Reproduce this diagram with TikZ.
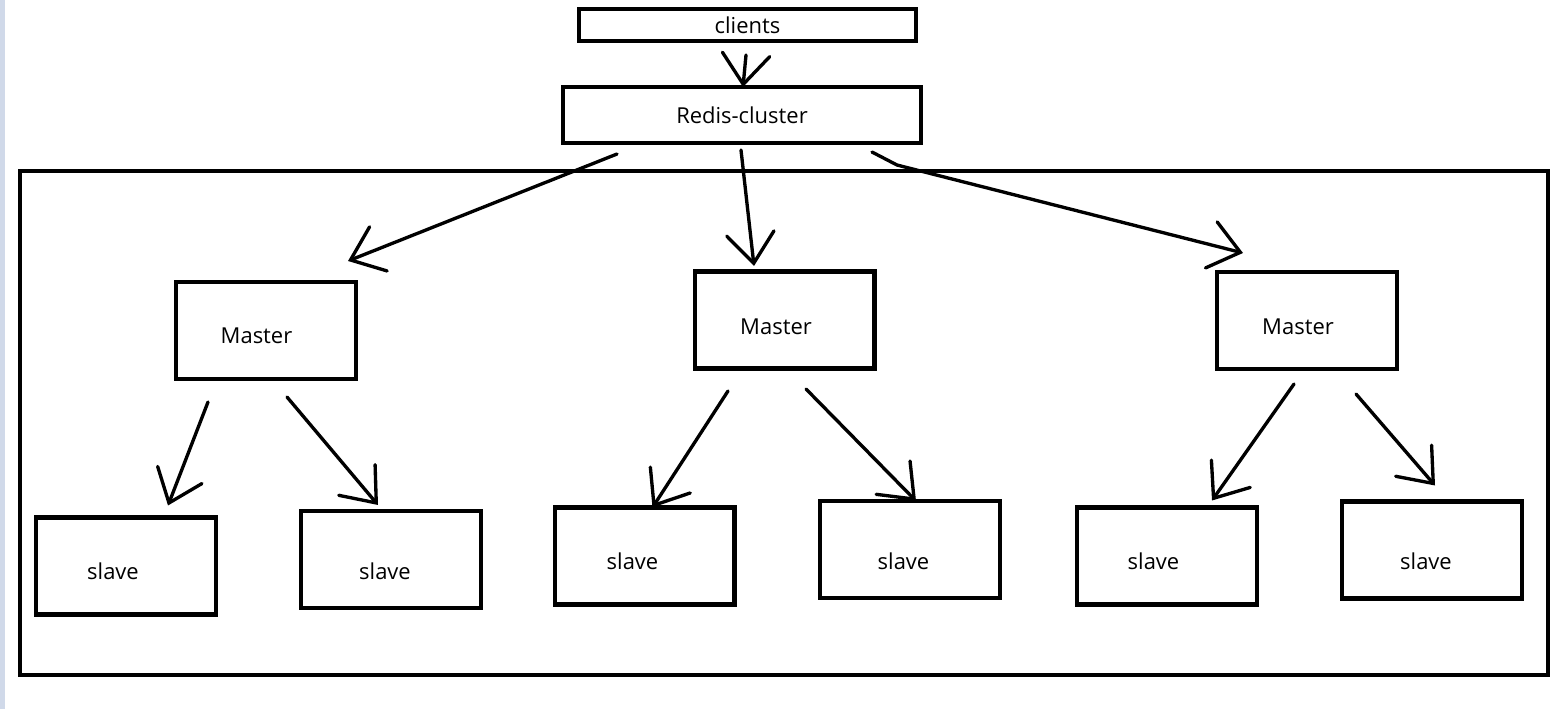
\documentclass[tikz,border=0pt]{standalone}
\usepackage{fontspec}
\setmainfont{Open Sans}
\usetikzlibrary{positioning, arrows.meta}
\definecolor{sidebar}{RGB}{208,217,233}

\begin{document}
\begin{tikzpicture}[
    x=0.02cm, y=-0.02cm,
    font=\fontsize{12.5}{15}\selectfont,
    box/.style={rectangle, draw, line width=2.3pt, inner sep=0pt, minimum width=3.6cm, minimum height=1.94cm},
    arr/.style={line width=1.9pt, line cap=round, -{Straight Barb[length=0.6cm, width=0.95cm, line cap=round]}},
]
\useasboundingbox (0,0) rectangle (1558,709);
\fill [sidebar] (0,0) rectangle (5,709);

% Nodes
\node [draw, line width=2.3pt, inner sep=0pt, minimum width=6.74cm, minimum height=0.64cm] (clients) at (747.5,25) {clients};
\node [draw, line width=2.3pt, inner sep=0pt, minimum width=7.16cm, minimum height=1.12cm] (redis) at (742,115) {Redis-cluster};
\node [draw, line width=2.3pt, inner sep=0pt, minimum width=30.55cm, minimum height=10.08cm] (cluster) at (784,423) {};

\node [box, label={[xshift=-0.19cm, yshift=-0.11cm]center:Master}] (master1) at (266,330.5) {};
\node [box, label={[xshift=-0.17cm, yshift=-0.13cm]center:Master}] (master2) at (784.5,320) {};
\node [box, label={[xshift=-0.18cm, yshift=-0.13cm]center:Master}] (master3) at (1307,320.5) {};

\node [box, label={[xshift=-0.26cm, yshift=-0.10cm]center:slave}] (slave1) at (126,566) {};
\node [box, label={[xshift=-0.12cm, yshift=-0.23cm]center:slave}] (slave2) at (391,559.5) {};
\node [box, label={[xshift=-0.24cm, yshift=-0.10cm]center:slave}] (slave3) at (644.5,556) {};
\node [box, label={[xshift=-0.13cm, yshift=-0.23cm]center:slave}] (slave4) at (910,549.5) {};
\node [box, label={[xshift=-0.27cm, yshift=-0.10cm]center:slave}] (slave5) at (1167,556) {};
\node [box, label={[xshift=-0.12cm, yshift=-0.22cm]center:slave}] (slave6) at (1432,550) {};

% Lines
\draw [arr] ([shift={(-1.5,12)}]clients.south) -- ([shift={(1,2)}]redis.north);
\draw [arr] ([shift={(-125,9)}]redis.south) -- ([shift={(82,-19)}]master1.north);
\draw [arr] ([shift={(-1,5)}]redis.south) -- ([shift={(-30.5,-3.5)}]master2.north);
\draw [arr] ([shift={(-51,7)}]redis.south east) -- ++(25,13) -- ([shift={(-64,-17)}]master3.north);

\draw [arr] ([shift={(-58,21)}]master1.south) -- ([shift={(42,-10)}]slave1.north);
\draw [arr] ([shift={(21,16)}]master1.south) -- ([shift={(-13,-4)}]slave2.north);
\draw [arr] ([shift={(-56.5,20.5)}]master2.south) -- ([shift={(8,2)}]slave3.north);
\draw [arr] ([shift={(21.5,18.5)}]master2.south) -- ([shift={(6,2)}]slave4.north);
\draw [arr] ([shift={(-13,13)}]master3.south) -- ([shift={(45,-5)}]slave5.north);
\draw [arr] ([shift={(49,23)}]master3.south) -- ([shift={(3,-14)}]slave6.north);

\end{tikzpicture}
\end{document}
